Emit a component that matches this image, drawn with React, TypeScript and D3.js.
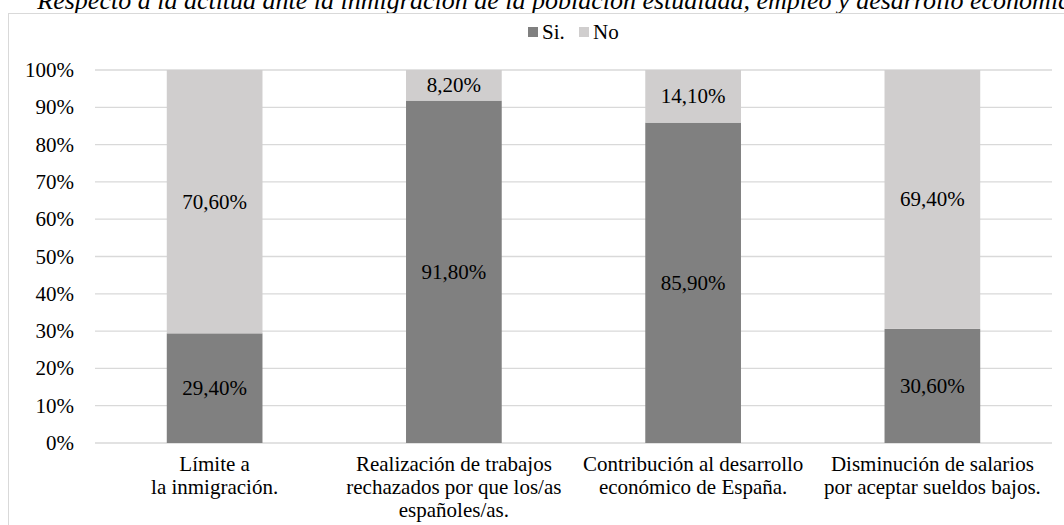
import React from 'react';
import * as d3 from 'd3';

const categories = [
  ['Límite a', 'la inmigración.'],
  ['Realización de trabajos', 'rechazados por que los/as', 'españoles/as.'],
  ['Contribución al desarrollo', 'económico de España.'],
  ['Disminución de salarios', 'por aceptar sueldos bajos.'],
];
const siValues = [29.4, 91.8, 85.9, 30.6];
const noValues = [70.6, 8.2, 14.1, 69.4];
const yTicks = [0, 10, 20, 30, 40, 50, 60, 70, 80, 90, 100];
const seriesNames = ['Si.', 'No'];
const title =
  'Respecto a la actitud ante la inmigración de la población estudiada, empleo y desarrollo económico';

const W = 1064;
const H = 525;
const margin = { top: 70, right: 12, bottom: 82, left: 95 };
const colors = ['#808080', '#d0cece'];
const font = "'Liberation Serif', 'Times New Roman', 'DejaVu Serif', serif";
const fs = 21;

const fmt = (v: number) => v.toFixed(2).replace('.', ',') + '%';

export default function App() {
  const x = d3
    .scaleBand<number>()
    .domain(d3.range(categories.length))
    .range([margin.left, W - margin.right])
    .paddingInner(0.6)
    .paddingOuter(0.3);
  const y = d3
    .scaleLinear()
    .domain([0, 100])
    .range([H - margin.bottom, margin.top]);

  const stacked = categories.map((_, i) => {
    const si = siValues[i];
    const no = noValues[i];
    return [
      { y0: 0, y1: si, v: si, c: colors[0] },
      { y0: si, y1: si + no, v: no, c: colors[1] },
    ];
  });

  return (
    <div style={{ position: 'fixed', left: 0, top: 0 }}>
      <svg width={W} height={H} style={{ display: 'block', background: '#fff', fontFamily: font }}>
        <text
          x={560}
          y={9}
          textAnchor="middle"
          fontSize={26}
          fontStyle="italic"
          fill="#000"
        >
          {title}
        </text>
        <rect x={8.5} y={13.5} width={W + 20} height={H} fill="#fff" stroke="#d9d9d9" />

        {/* legend */}
        <g transform="translate(528,27)">
          {seriesNames.map((s, i) => (
            <g key={s} transform={`translate(${i * 51},0)`}>
              <rect x={0} y={0} width={10} height={10} fill={colors[i]} />
              <text x={14} y={12} fontSize={fs} fill="#000">
                {s}
              </text>
            </g>
          ))}
        </g>

        {/* grid + y axis */}
        {yTicks.map((t) => (
          <g key={t}>
            <line
              x1={margin.left}
              x2={W - margin.right}
              y1={y(t)}
              y2={y(t)}
              stroke="#d9d9d9"
              strokeWidth={1.3}
            />
            <text x={74} y={y(t) + 7} textAnchor="end" fontSize={fs} fill="#000">
              {t}%
            </text>
          </g>
        ))}

        {/* bars */}
        {stacked.map((segs, i) => (
          <g key={i}>
            {segs.map((s, j) => (
              <g key={j}>
                <rect
                  x={x(i)!}
                  width={x.bandwidth()}
                  y={y(s.y1)}
                  height={y(s.y0) - y(s.y1)}
                  fill={s.c}
                />
                <text
                  x={x(i)! + x.bandwidth() / 2}
                  y={y((s.y0 + s.y1) / 2) + 7}
                  textAnchor="middle"
                  fontSize={fs}
                  fill="#000"
                >
                  {fmt(s.v)}
                </text>
              </g>
            ))}
          </g>
        ))}

        {/* x labels */}
        {categories.map((lines, i) => (
          <text
            key={i}
            x={x(i)! + x.bandwidth() / 2}
            y={H - margin.bottom + 28}
            textAnchor="middle"
            fontSize={fs}
            fill="#000"
          >
            {lines.map((l, k) => (
              <tspan key={k} x={x(i)! + x.bandwidth() / 2} dy={k === 0 ? 0 : 23}>
                {l}
              </tspan>
            ))}
          </text>
        ))}
      </svg>
    </div>
  );
}
